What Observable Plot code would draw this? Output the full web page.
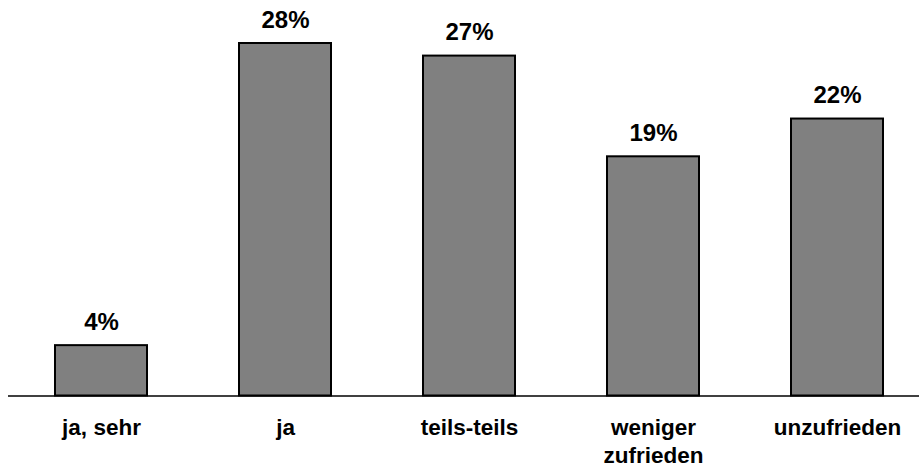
<!DOCTYPE html>
<html>
<head>
<meta charset="utf-8">
<script src="https://cdn.jsdelivr.net/npm/d3@7"></script>
<script src="https://cdn.jsdelivr.net/npm/@observablehq/plot@0.6"></script>
<style>
  html, body { margin: 0; padding: 0; background: #fff; }
  #chart svg { display: block; }
</style>
</head>
<body>
<div id="chart"></div>
<script>
// Zufriedenheit: Anteile der Antworten in Prozent
const categories = ["ja, sehr", "ja", "teils-teils", "weniger\nzufrieden", "unzufrieden"];
const shares = [4, 28, 27, 19, 22];

const data = categories.map((c, i) => ({category: c, share: shares[i]}));

const chart = Plot.plot({
  width: 919,
  height: 470,
  marginLeft: 8,
  marginRight: 0,
  marginTop: 0,
  marginBottom: 0,
  style: {fontFamily: "'Liberation Sans', Arial, sans-serif", background: "#fff"},
  x: {domain: categories, range: [9, 929], paddingInner: 0.5, paddingOuter: 0.25, axis: null},
  y: {domain: [0, 28], range: [395.5, 43], axis: null},
  marks: [
    Plot.barY(data, {x: "category", y: "share", fill: "#808080", stroke: "#000", strokeWidth: 2}),
    Plot.ruleY([0], {stroke: "#000", strokeWidth: 1.3}),
    Plot.text(data, {
      x: "category", y: "share", text: d => `${d.share}%`,
      dy: -16, lineAnchor: "bottom", fontSize: 24, fontWeight: "bold", fill: "#000"
    }),
    Plot.text(data, {
      x: "category", y: 0, text: "category",
      dy: 19.5, lineAnchor: "top", lineHeight: 1.24, fontSize: 22.5, fontWeight: "bold", fill: "#000"
    })
  ]
});

document.getElementById("chart").appendChild(chart);
</script>
</body>
</html>
